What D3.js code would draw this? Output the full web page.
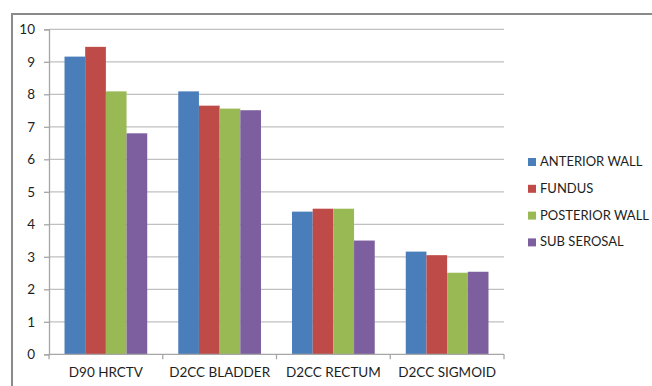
<!DOCTYPE html>
<html>
<head>
<meta charset="utf-8">
<script src="https://cdn.jsdelivr.net/npm/d3@7"></script>
<style>
  html, body { margin: 0; padding: 0; background: #fff; }
  svg { display: block; }
  text { font-family: Lato, "Open Sans", sans-serif; fill: #1e1e1e; }
</style>
</head>
<body>
<svg id="chart" width="652" height="386"></svg>
<script>
// Dose categories along the x axis
const categories = ["D90 HRCTV", "D2CC BLADDER", "D2CC RECTUM", "D2CC SIGMOID"];

// One array per series, in category order
const anteriorWall  = [9.16, 8.09, 4.39, 3.16];
const fundus        = [9.46, 7.65, 4.48, 3.05];
const posteriorWall = [8.09, 7.56, 4.48, 2.51];
const subSerosal    = [6.80, 7.51, 3.50, 2.54];

const seriesNames  = ["ANTERIOR WALL", "FUNDUS", "POSTERIOR WALL", "SUB SEROSAL"];
const seriesColors = ["#4a7ebb", "#be4b48", "#98b954", "#7d5fa0"];
const yTicks = [0, 1, 2, 3, 4, 5, 6, 7, 8, 9, 10];

const series = [anteriorWall, fundus, posteriorWall, subSerosal];

const svg = d3.select("#chart");

// Outer frame (top and left edges)
svg.append("path")
  .attr("d", "M12,386 L12,14 L652,14")
  .attr("fill", "none")
  .attr("stroke", "#8a8a8a")
  .attr("stroke-width", 2);

const plot = { left: 49, right: 504, top: 29.3, bottom: 354.3 };

const x0 = d3.scaleBand()
  .domain(categories)
  .range([plot.left, plot.right])
  .paddingInner(0)
  .paddingOuter(0);

// 4 bars + 150% gap per category
const groupW = x0.bandwidth() * 4 / 5.5;
const x1 = d3.scaleBand()
  .domain(seriesNames)
  .range([0, groupW]);

const y = d3.scaleLinear()
  .domain([0, 10])
  .range([plot.bottom, plot.top]);

// Horizontal gridlines
svg.append("g")
  .selectAll("line")
  .data(yTicks.filter(d => d > 0))
  .join("line")
  .attr("x1", plot.left)
  .attr("x2", plot.right)
  .attr("y1", d => y(d))
  .attr("y2", d => y(d))
  .attr("stroke", "#c0c0c0")
  .attr("stroke-width", 1.3);

// Bars
const groups = svg.append("g")
  .selectAll("g")
  .data(categories)
  .join("g")
  .attr("transform", c => `translate(${x0(c) + (x0.bandwidth() - groupW) / 2},0)`);

groups.selectAll("rect")
  .data((c, i) => series.map((s, k) => ({ name: seriesNames[k], value: s[i], color: seriesColors[k] })))
  .join("rect")
  .attr("x", d => x1(d.name))
  .attr("width", x1.bandwidth())
  .attr("y", d => y(d.value))
  .attr("height", d => y(0) - y(d.value))
  .attr("fill", d => d.color);

// Y axis
const yAxis = d3.axisLeft(y)
  .tickValues(yTicks)
  .tickSize(5)
  .tickPadding(9)
  .tickFormat(d3.format("d"));

const gy = svg.append("g")
  .attr("transform", `translate(${plot.left},0)`)
  .call(yAxis);
gy.select(".domain").attr("stroke", "#a6a6a6").attr("stroke-width", 1.3);
gy.selectAll(".tick line").attr("stroke", "#a6a6a6").attr("stroke-width", 1.3);
gy.selectAll(".tick text")
  .style("font-family", "Lato, 'Open Sans', sans-serif")
  .style("font-size", "13.5px")
  .attr("fill", "#1e1e1e");

// X axis with category boundary ticks
const gx = svg.append("g")
  .attr("transform", `translate(0,${plot.bottom})`);
gx.append("line")
  .attr("x1", plot.left).attr("x2", plot.right)
  .attr("stroke", "#a6a6a6").attr("stroke-width", 1.3);
const bounds = categories.map(c => x0(c)).concat([plot.right]);
gx.selectAll("line.b")
  .data(bounds)
  .join("line")
  .attr("class", "b")
  .attr("x1", d => d).attr("x2", d => d)
  .attr("y1", 0).attr("y2", 5)
  .attr("stroke", "#a6a6a6").attr("stroke-width", 1.3);
gx.selectAll("text")
  .data(categories)
  .join("text")
  .attr("x", c => x0(c) + x0.bandwidth() / 2)
  .attr("y", 23)
  .attr("text-anchor", "middle")
  .style("font-size", "13.5px")
  .text(c => c);

// Legend
const legend = svg.append("g")
  .attr("transform", "translate(528,161.5)");
const items = legend.selectAll("g")
  .data(seriesNames)
  .join("g")
  .attr("transform", (d, i) => `translate(0,${i * 26.8})`);
items.append("rect")
  .attr("x", 0).attr("y", -3.5)
  .attr("width", 8).attr("height", 8)
  .attr("fill", (d, i) => seriesColors[i]);
items.append("text")
  .attr("x", 12)
  .attr("y", 0)
  .attr("dy", "0.35em")
  .style("font-size", "13px")
  .text(d => d);
</script>
</body>
</html>
